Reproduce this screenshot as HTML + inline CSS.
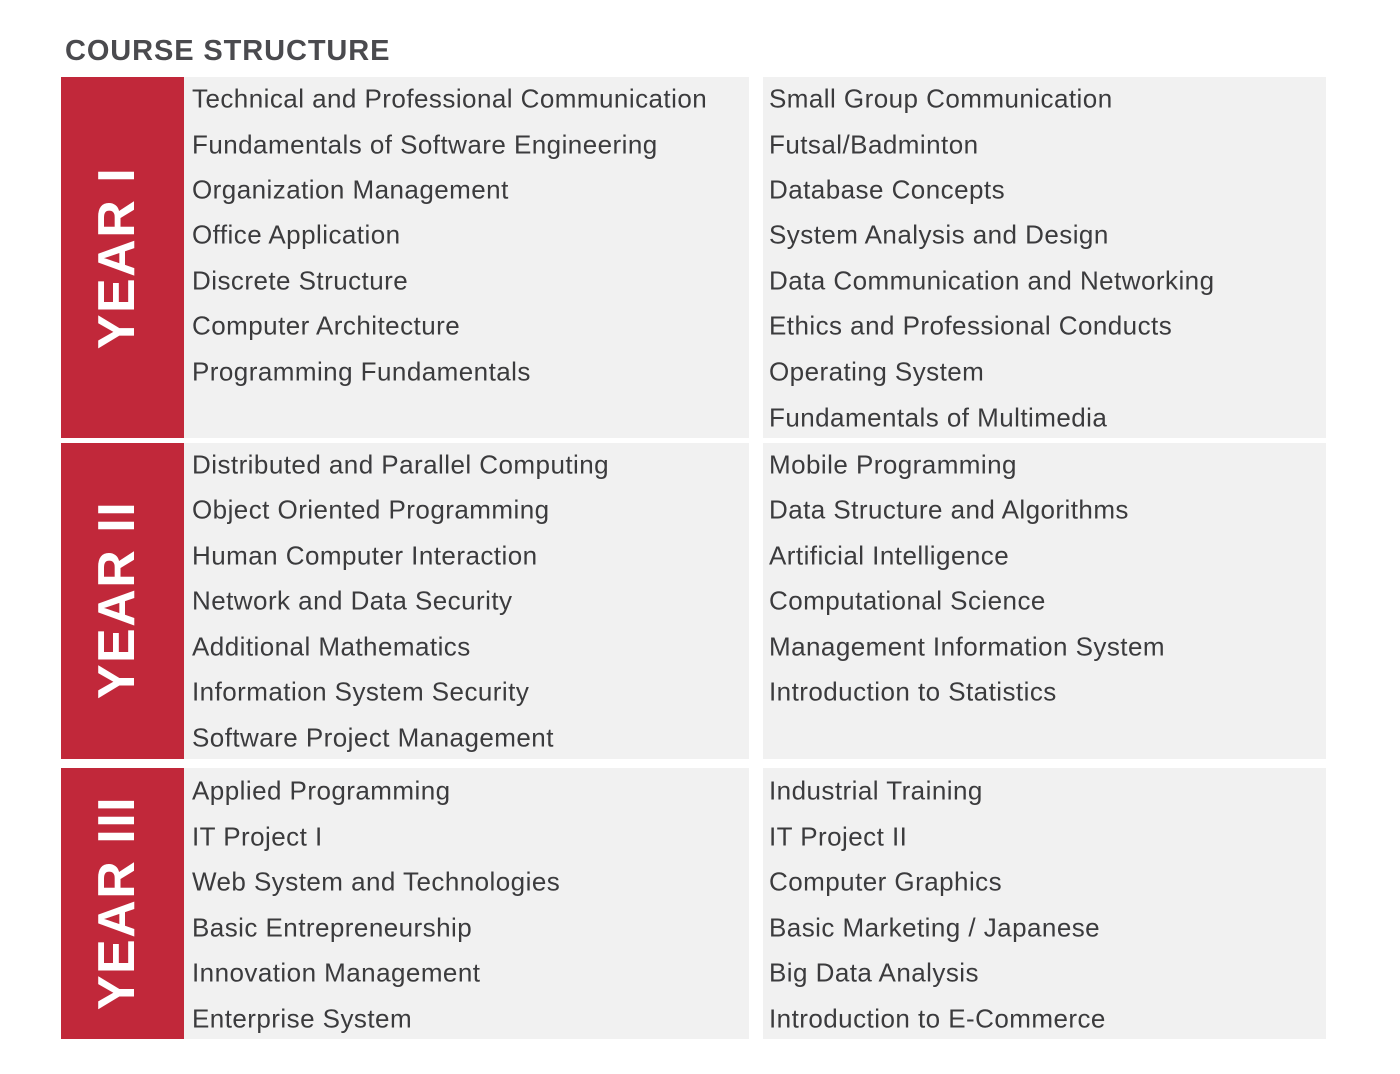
<!DOCTYPE html>
<html><head><style>
body{margin:0;width:1400px;height:1074px;background:#fff;position:relative;overflow:hidden;font-family:"Liberation Sans",sans-serif}
.t{position:absolute;left:65px;top:35px;font-size:29px;font-weight:bold;color:#4a4a4e;letter-spacing:0.9px}
.r{position:absolute;left:61px;width:123px;background:#c1283a}
.p{position:absolute;background:#f1f1f1}
.y{position:absolute;left:117px;color:#fff;font-weight:bold;font-size:52px;white-space:nowrap;transform:translate(-50%,-50%) rotate(-90deg);letter-spacing:1.5px}
.l{position:absolute;font-size:26px;color:#3b3b3d;white-space:nowrap;transform:translateY(-50%);letter-spacing:0.45px}
</style></head><body>
<div class="t">COURSE STRUCTURE</div>
<div class="r" style="top:77px;height:361px"></div>
<div class="r" style="top:443px;height:316px"></div>
<div class="r" style="top:768px;height:271px"></div>
<div class="p" style="left:184px;top:77px;width:565px;height:361px"></div>
<div class="p" style="left:763px;top:77px;width:563px;height:361px"></div>
<div class="p" style="left:184px;top:443px;width:565px;height:316px"></div>
<div class="p" style="left:763px;top:443px;width:563px;height:316px"></div>
<div class="p" style="left:184px;top:768px;width:565px;height:271px"></div>
<div class="p" style="left:763px;top:768px;width:563px;height:271px"></div>
<div class="y" style="top:258px">YEAR I</div>
<div class="y" style="top:600px">YEAR II</div>
<div class="y" style="top:903px">YEAR III</div>

<div class="l" style="left:192px;top:99px">Technical and Professional Communication</div>
<div class="l" style="left:192px;top:145px">Fundamentals of Software Engineering</div>
<div class="l" style="left:192px;top:190px">Organization Management</div>
<div class="l" style="left:192px;top:235px">Office Application</div>
<div class="l" style="left:192px;top:281px">Discrete Structure</div>
<div class="l" style="left:192px;top:326px">Computer Architecture</div>
<div class="l" style="left:192px;top:372px">Programming Fundamentals</div>

<div class="l" style="left:769px;top:99px">Small Group Communication</div>
<div class="l" style="left:769px;top:145px">Futsal/Badminton</div>
<div class="l" style="left:769px;top:190px">Database Concepts</div>
<div class="l" style="left:769px;top:235px">System Analysis and Design</div>
<div class="l" style="left:769px;top:281px">Data Communication and Networking</div>
<div class="l" style="left:769px;top:326px">Ethics and Professional Conducts</div>
<div class="l" style="left:769px;top:372px">Operating System</div>
<div class="l" style="left:769px;top:418px">Fundamentals of Multimedia</div>

<div class="l" style="left:192px;top:465px">Distributed and Parallel Computing</div>
<div class="l" style="left:192px;top:510px">Object Oriented Programming</div>
<div class="l" style="left:192px;top:556px">Human Computer Interaction</div>
<div class="l" style="left:192px;top:601px">Network and Data Security</div>
<div class="l" style="left:192px;top:647px">Additional Mathematics</div>
<div class="l" style="left:192px;top:692px">Information System Security</div>
<div class="l" style="left:192px;top:738px">Software Project Management</div>

<div class="l" style="left:769px;top:465px">Mobile Programming</div>
<div class="l" style="left:769px;top:510px">Data Structure and Algorithms</div>
<div class="l" style="left:769px;top:556px">Artificial Intelligence</div>
<div class="l" style="left:769px;top:601px">Computational Science</div>
<div class="l" style="left:769px;top:647px">Management Information System</div>
<div class="l" style="left:769px;top:692px">Introduction to Statistics</div>

<div class="l" style="left:192px;top:791px">Applied Programming</div>
<div class="l" style="left:192px;top:837px">IT Project I</div>
<div class="l" style="left:192px;top:882px">Web System and Technologies</div>
<div class="l" style="left:192px;top:928px">Basic Entrepreneurship</div>
<div class="l" style="left:192px;top:973px">Innovation Management</div>
<div class="l" style="left:192px;top:1019px">Enterprise System</div>

<div class="l" style="left:769px;top:791px">Industrial Training</div>
<div class="l" style="left:769px;top:837px">IT Project II</div>
<div class="l" style="left:769px;top:882px">Computer Graphics</div>
<div class="l" style="left:769px;top:928px">Basic Marketing / Japanese</div>
<div class="l" style="left:769px;top:973px">Big Data Analysis</div>
<div class="l" style="left:769px;top:1019px">Introduction to E-Commerce</div>
</body></html>
